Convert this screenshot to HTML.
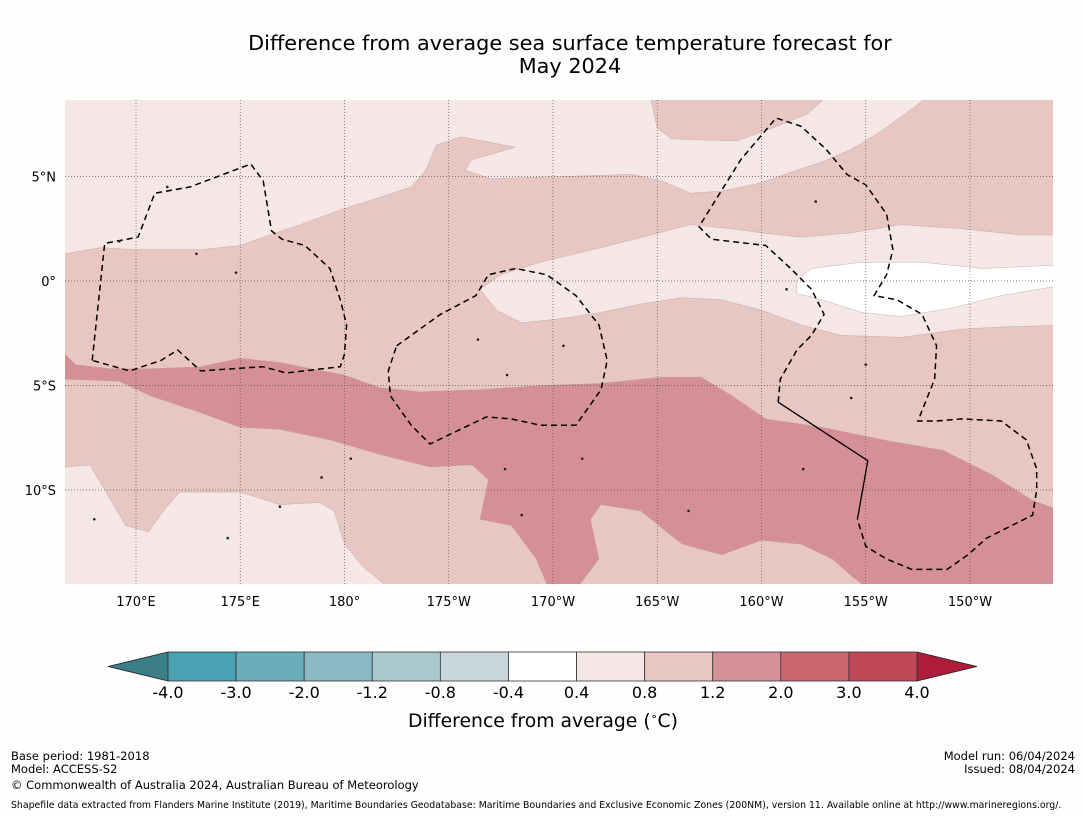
<!DOCTYPE html>
<html><head><meta charset="utf-8"><style>
body{margin:0;background:#fefefe;width:1085px;height:816px;overflow:hidden;font-family:"Liberation Sans","DejaVu Sans",sans-serif}
svg{position:absolute;left:0;top:0}
</style></head><body>
<svg id="chart" width="1085" height="816" viewBox="0 0 1085 816" font-family="DejaVu Sans, Liberation Sans, sans-serif">
<text x="570" y="50" font-size="20.8" text-anchor="middle">Difference from average sea surface temperature forecast for</text>
<text x="570" y="73" font-size="20.8" text-anchor="middle">May 2024</text>
<defs><clipPath id="mc"><rect x="65" y="100" width="988" height="484"/></clipPath></defs>
<g id="map" clip-path="url(#mc)"></g>
<g id="axes"></g>
<g id="cbar"></g>
<text x="543" y="727" font-size="18.8" text-anchor="middle">Difference from average (<tspan font-size="11" dy="-7">∘</tspan><tspan dy="7">C)</tspan></text>
<g font-size="11.5">
<text x="11" y="760">Base period: 1981-2018</text>
<text x="11" y="773">Model: ACCESS-S2</text>
<text x="11" y="789">© Commonwealth of Australia 2024, Australian Bureau of Meteorology</text>
<text x="1075" y="760" text-anchor="end">Model run: 06/04/2024</text>
<text x="1075" y="773" text-anchor="end">Issued: 08/04/2024</text>
<text x="11" y="808" font-size="9.35">Shapefile data extracted from Flanders Marine Institute (2019), Maritime Boundaries Geodatabase: Maritime Boundaries and Exclusive Economic Zones (200NM), version 11. Available online at http://www.marineregions.org/.</text>
</g>
</svg>
<script>
// colorbar data
const levels=[-4.0,-3.0,-2.0,-1.2,-0.8,-0.4,0.4,0.8,1.2,2.0,3.0,4.0];
const levelLabels=["-4.0","-3.0","-2.0","-1.2","-0.8","-0.4","0.4","0.8","1.2","2.0","3.0","4.0"];
const binColors=["#4aa1b1","#6aaebb","#8bb8c4","#aac8cd","#c8d7db","#ffffff","#f5e7e6","#e8c6c2","#d58f97","#c9666f","#bf4856"];
const lonTicks=[170,175,180,185,190,195,200,205,210];
const lonTickLabels=["170°E","175°E","180°","175°W","170°W","165°W","160°W","155°W","150°W"];
const latTicks=[5,0,-5,-10];
const latTickLabels=["5°N","0°","5°S","10°S"];
// contour regions [lon(0-360), lat]
const regionLightNW=[[166.6,1.3],[168.3,1.6],[170.0,1.5],[173.1,1.5],[175.0,1.7],[176.4,2.2],[177.9,2.7],[179.8,3.4],[181.7,4.0],[183.2,4.5],[183.9,5.3],[184.4,6.5],[185.6,6.9],[188.2,6.4],[186.1,5.8],[185.8,5.3],[187.0,4.9],[190.4,5.0],[193.8,5.1],[195.2,4.8],[196.6,4.2],[198.1,4.3],[200.0,4.7],[201.4,5.2],[202.9,5.7],[204.3,6.3],[205.8,7.2],[207.7,8.6],[207.7,9.5],[166.0,9.5],[166.0,1.3]];
const regionMidNorth=[[194.7,9.5],[194.7,8.7],[195.0,7.3],[195.7,6.8],[198.8,6.7],[200.5,7.3],[202.2,8.0],[203.0,8.7],[203.0,9.5]];
const regionLightEq=[[186.5,-0.4],[187.5,0.3],[189.4,0.9],[192.3,1.6],[194.7,2.2],[196.6,2.7],[198.6,2.5],[200.0,2.3],[201.9,2.1],[204.3,2.3],[206.7,2.7],[209.6,2.5],[212.5,2.2],[215,2.2],[215,-2.1],[211.5,-2.2],[209.6,-2.3],[206.7,-2.7],[203.8,-2.6],[201.9,-2.1],[200.0,-1.4],[198.1,-0.9],[196.2,-0.8],[194.2,-1.1],[192.3,-1.5],[190.4,-1.8],[188.5,-2.0],[187.3,-1.4]];
const regionWhite=[[201.7,0.05],[202.4,0.6],[204.8,0.9],[207.7,0.9],[210.6,0.6],[215,0.8],[215,-0.1],[211.5,-0.7],[209.1,-1.3],[206.7,-1.7],[204.8,-1.5],[202.9,-0.9],[201.7,-0.6]];
const regionDark=[[166.0,-3.5],[166.6,-3.5],[167.1,-4.0],[168.8,-4.2],[170.7,-4.2],[173.1,-4.1],[175.0,-3.7],[176.9,-3.9],[178.4,-4.2],[180.0,-4.5],[181.7,-5.1],[183.6,-5.3],[186.5,-5.2],[189.4,-5.0],[192.3,-4.9],[195.2,-4.6],[197.1,-4.6],[198.6,-5.5],[200.2,-6.6],[202.9,-7.0],[205.8,-7.6],[208.7,-8.1],[211.1,-9.3],[213.0,-10.5],[214.1,-10.9],[215,-10.9],[215,-15],[204.8,-15],[204.8,-14.5],[204.3,-14.1],[203.4,-13.3],[201.9,-12.6],[200.0,-12.4],[198.1,-13.1],[196.2,-12.6],[194.2,-11.0],[192.3,-10.7],[191.8,-11.4],[192.2,-13.3],[191.3,-14.5],[191.3,-15],[189.7,-15],[189.7,-14.5],[189.2,-13.3],[188.0,-11.7],[186.5,-11.4],[186.9,-9.5],[186.1,-8.8],[184.1,-8.9],[181.7,-8.3],[179.3,-7.6],[176.9,-7.1],[175.0,-7.0],[173.1,-6.3],[170.7,-5.5],[169.2,-4.8],[166.6,-4.7],[166.0,-4.7]];
const regionLightSW=[[166.0,-8.9],[166.6,-8.9],[167.8,-8.8],[168.5,-10.0],[169.5,-11.7],[170.6,-12.0],[171.4,-10.9],[172.1,-10.1],[175.0,-10.1],[176.9,-10.7],[178.8,-10.6],[179.5,-11.0],[180.0,-12.6],[180.9,-13.7],[181.9,-14.5],[182,-15],[166.0,-15]];
// EEZ boundaries
const eezGilbert=[[167.9,-3.8],[168.5,1.8],[170.1,2.1],[170.9,4.2],[172.6,4.5],[175.5,5.6],[176.1,4.8],[176.5,2.4],[177.0,2.0],[178.1,1.7],[179.3,0.6],[179.8,-0.9],[180.1,-2.1],[180.0,-3.5],[179.8,-4.1],[177.2,-4.4],[176.1,-4.1],[173.1,-4.3],[172.0,-3.3],[171.2,-3.8],[169.7,-4.3],[167.9,-3.8]];
const eezPhoenix=[[182.5,-3.1],[184.6,-1.6],[186.3,-0.7],[186.9,0.3],[188.2,0.6],[189.7,0.3],[191.1,-0.7],[192.2,-2.1],[192.6,-3.8],[192.3,-5.2],[191.1,-6.9],[189.4,-6.9],[188.0,-6.6],[186.8,-6.5],[184.1,-7.8],[183.2,-6.9],[182.2,-5.5],[182.1,-4.3],[182.5,-3.1]];
const eezLine=[[200.8,-5.8],[200.9,-4.7],[201.7,-3.3],[202.4,-2.6],[203.0,-1.6],[202.4,-0.4],[201.4,0.6],[200.2,1.7],[197.6,2.0],[197.0,2.6],[199.0,5.8],[200.7,7.8],[201.9,7.4],[203.1,6.3],[204.1,5.1],[205.0,4.6],[206.0,3.2],[206.3,1.5],[206.0,0.3],[205.4,-0.7],[206.5,-0.9],[207.7,-1.6],[208.4,-3.1],[208.3,-4.7],[207.5,-6.7],[208.4,-6.7],[209.6,-6.6],[211.5,-6.7],[212.7,-7.6],[213.2,-9.0],[213.2,-10.0],[213.0,-11.2],[210.8,-12.3],[209.9,-13.1],[208.9,-13.8],[207.2,-13.8],[206.0,-13.3],[205.0,-12.7],[204.6,-11.4]];
const solidBoundary=[[200.8,-5.8],[205.1,-8.6],[204.6,-11.4]];

const NS="http://www.w3.org/2000/svg";
const X=lon=>136+(lon-170)*20.85;
const Y=lat=>281-lat*20.9;
function el(t,a,p){const e=document.createElementNS(NS,t);for(const k in a)e.setAttribute(k,a[k]);p.appendChild(e);return e;}
const pts=arr=>arr.map(p=>X(p[0]).toFixed(1)+","+Y(p[1]).toFixed(1)).join(" ");
const map=document.getElementById('map');
let r=el('rect',{x:65,y:100,width:988,height:484,fill:binColors[7]},map);


const regions=[[regionLightNW,binColors[6],'region-nw-0.4-0.8'],[regionMidNorth,binColors[7],'region-north-0.8-1.2'],[regionLightEq,binColors[6],'region-eq-0.4-0.8'],[regionWhite,binColors[5],'region-eq-neutral'],[regionDark,binColors[8],'region-south-1.2-2.0'],[regionLightSW,binColors[6],'region-sw-0.4-0.8']];
for(const [d,c,n] of regions){
 const p=el('polygon',{points:pts(d),fill:c,stroke:"#b9a0a0","stroke-width":0.4},map);
 
 
}
for(const t of lonTicks){const l=el('line',{x1:X(t),x2:X(t),y1:100,y2:584,stroke:"#555","stroke-width":0.7,"stroke-dasharray":"1,2"},map);
 
 }
for(const t of latTicks){const l=el('line',{x1:65,x2:1053,y1:Y(t),y2:Y(t),stroke:"#555","stroke-width":0.7,"stroke-dasharray":"1,2"},map);
 
 }
for(const [d,n] of [[eezGilbert,'eez-gilbert-islands'],[eezPhoenix,'eez-phoenix-islands'],[eezLine,'eez-line-islands']]){
 const p=el('polyline',{points:pts(d),fill:"none",stroke:"#000","stroke-width":1.5,"stroke-dasharray":"6,4"},map);
 
 
}
const sb=el('polyline',{points:pts(solidBoundary),fill:"none",stroke:"#000","stroke-width":1.3},map);


const islands=[[176.9,-10.8],[178.9,-9.4],[174.4,-12.3],[187.7,-9.0],[188.5,-11.2],[191.4,-8.5],[196.5,-11.0],[202.0,-9.0],[204.3,-5.6],[205.0,-4.0],[186.4,-2.8],[187.8,-4.5],[169.2,1.9],[172.9,1.3],[174.8,0.4],[171.5,4.5],[202.6,3.8],[201.2,-0.4],[168.0,-11.4],[180.3,-8.5],[190.5,-3.1]];
for(const p of islands){const c=el('circle',{cx:X(p[0]),cy:Y(p[1]),r:1.3,fill:"#222"},map);
 
 }
const ax=document.getElementById('axes');
lonTicks.forEach((t,i)=>{const tx=el('text',{x:X(t),y:606,"font-size":13,"text-anchor":"middle"},ax);tx.textContent=lonTickLabels[i];
 
 });
latTicks.forEach((t,i)=>{const tx=el('text',{x:56,y:Y(t)+5,"font-size":13,"text-anchor":"end"},ax);tx.textContent=latTickLabels[i];
 
 });
const cb=document.getElementById('cbar');
const cx0=168,cx1=917,cy=652,ch=29,w=(cx1-cx0)/binColors.length;
const CX=i=>cx0+i*w;
const lt=el('polygon',{points:`108,${cy+ch/2} ${cx0},${cy} ${cx0},${cy+ch}`,fill:"#3a7e88",stroke:"#222","stroke-width":0.8},cb);


const rt=el('polygon',{points:`977,${cy+ch/2} ${cx1},${cy} ${cx1},${cy+ch}`,fill:"#ad1c39",stroke:"#222","stroke-width":0.8},cb);


binColors.forEach((c,i)=>{const b=el('rect',{x:CX(i),y:cy,width:w,height:ch,fill:c,stroke:"#333","stroke-width":0.8},cb);
 
 });
levels.forEach((v,i)=>{const tx=el('text',{x:CX(i),y:698,"font-size":16,"text-anchor":"middle"},cb);tx.textContent=levelLabels[i];
 
 });
</script>
</body></html>
